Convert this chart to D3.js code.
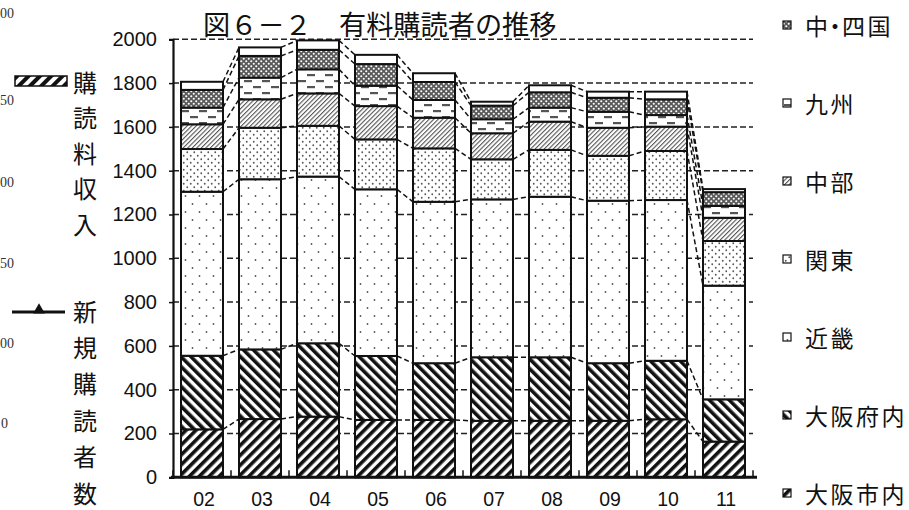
<!DOCTYPE html>
<html><head><meta charset="utf-8">
<script src="https://cdn.jsdelivr.net/npm/d3@7"></script>
<style>body{margin:0;background:#fff;}svg{display:block;}</style>
</head><body>
<svg id="c" width="909" height="510"></svg>
<script>
// ---- data ----
const categories = ["02","03","04","05","06","07","08","09","10","11"];
const osakaCity  = [219,266,277,262,262,258,258,258,265,163];
const osakaPref  = [336,318,335,292,259,290,290,263,267,193];
const kinki      = [749,777,761,761,737,721,733,742,734,519];
const kanto      = [195,235,232,228,244,183,214,205,224,204];
const chubu      = [113,130,148,152,140,119,129,128,111,106];
const kyushu     = [76,99,110,93,81,64,64,73,53,54];
const chushikoku = [81,99,89,99,82,62,70,64,72,63];
const other      = [37,39,43,42,40,18,32,28,35,14];
const seriesKeys   = ["osakaCity","osakaPref","kinki","kanto","chubu","kyushu","chushikoku","other"];
const seriesNames  = ["大阪市内","大阪府内","近畿","関東","中部","九州","中・四国","その他"];
const legendKeys   = ["chushikoku","kyushu","chubu","kanto","kinki","osakaPref","osakaCity"];
const yTicks = [0,200,400,600,800,1000,1200,1400,1600,1800,2000];
const sideFragments = ["00","50","00","50","00","0"];
const title = "図６－２　有料購読者の推移";
const leftLegend1 = "購読料収入";
const leftLegend2 = "新規購読者数";

const seriesData = {osakaCity, osakaPref, kinki, kanto, chubu, kyushu, chushikoku, other};
const table = categories.map((c,i)=>{const o={cat:c}; seriesKeys.forEach(k=>o[k]=seriesData[k][i]); return o;});

const svg = d3.select("#c");
const defs = svg.append("defs");
const JP = "Noto Sans CJK JP, sans-serif";

function stripes(id, angle, w, sw, color){
  const p = defs.append("pattern").attr("id",id).attr("patternUnits","userSpaceOnUse")
    .attr("width",w).attr("height",w).attr("patternTransform",`rotate(${angle})`);
  p.append("rect").attr("width",w).attr("height",w).attr("fill","#fff");
  p.append("rect").attr("x",0).attr("y",0).attr("width",sw).attr("height",w).attr("fill",color);
}
stripes("p-osakaCity", 45, 7, 3.6, "#111");
stripes("p-osakaPref", -45, 7, 3.6, "#111");
stripes("p-chubu", 45, 3.2, 1.1, "#555");
stripes("p-leg", 45, 8, 4, "#111");
(function(){
  const p = defs.append("pattern").attr("id","p-kinki").attr("patternUnits","userSpaceOnUse").attr("width",14).attr("height",16);
  p.append("rect").attr("width",14).attr("height",16).attr("fill","#fff");
  p.append("circle").attr("cx",3.5).attr("cy",4).attr("r",0.9).attr("fill","#555");
  p.append("circle").attr("cx",10.5).attr("cy",12).attr("r",0.9).attr("fill","#555");
})();
(function(){
  const p = defs.append("pattern").attr("id","p-kanto").attr("patternUnits","userSpaceOnUse").attr("width",7).attr("height",7);
  p.append("rect").attr("width",7).attr("height",7).attr("fill","#fff");
  p.append("circle").attr("cx",1.75).attr("cy",1.75).attr("r",0.9).attr("fill","#555");
  p.append("circle").attr("cx",5.25).attr("cy",5.25).attr("r",0.9).attr("fill","#555");
})();
(function(){
  const p = defs.append("pattern").attr("id","p-kyushu").attr("patternUnits","userSpaceOnUse").attr("width",18).attr("height",12);
  p.append("rect").attr("width",18).attr("height",12).attr("fill","#fff");
  p.append("rect").attr("x",1).attr("y",2).attr("width",8).attr("height",2.2).attr("fill","#555");
  p.append("rect").attr("x",10).attr("y",8).attr("width",8).attr("height",2.2).attr("fill","#555");
})();
(function(){
  const p = defs.append("pattern").attr("id","p-chushikoku").attr("patternUnits","userSpaceOnUse").attr("width",5).attr("height",5);
  p.append("rect").attr("width",5).attr("height",5).attr("fill","#5a5a5a");
  p.append("circle").attr("cx",1.25).attr("cy",1.25).attr("r",1.05).attr("fill","#fff");
  p.append("circle").attr("cx",3.75).attr("cy",3.75).attr("r",1.05).attr("fill","#fff");
})();
const fillOf = k => k==="other" ? "#fff" : `url(#p-${k})`;

const x = d3.scaleBand().domain(categories).range([173,753]).paddingInner(0.276).paddingOuter(0.138);
const y = d3.scaleLinear().domain([0,2000]).range([477.3,39.3]);

// gridlines
svg.append("g").selectAll("line").data(yTicks.filter(v=>v>0)).join("line")
  .attr("x1",173).attr("x2",753).attr("y1",d=>y(d)).attr("y2",d=>y(d))
  .attr("stroke","#222").attr("stroke-width",1.5).attr("stroke-dasharray","6,3");

// title
svg.append("text").attr("x",203).attr("y",34.5).attr("font-family",JP)
  .attr("font-size",27.2).attr("fill","#111").text(title);

const stack = d3.stack().keys(seriesKeys)(table);

// connectors
const conn = svg.append("g");
stack.forEach(layer=>{
  for(let i=0;i<layer.length-1;i++){
    conn.append("line")
      .attr("x1",x(categories[i])+x.bandwidth()).attr("y1",y(layer[i][1]))
      .attr("x2",x(categories[i+1])).attr("y2",y(layer[i+1][1]))
      .attr("stroke","#111").attr("stroke-width",1.5).attr("stroke-dasharray","5,3");
  }
});

// bars
svg.append("g").selectAll("g").data(stack).join("g")
  .attr("fill",d=>fillOf(d.key))
  .selectAll("rect").data(d=>d).join("rect")
  .attr("x",d=>x(d.data.cat)).attr("width",x.bandwidth())
  .attr("y",d=>y(d[1])).attr("height",d=>y(d[0])-y(d[1]))
  .attr("stroke","#111").attr("stroke-width",2);

// left axis
const yAxis = d3.axisLeft(y).tickValues(yTicks).tickSize(4).tickFormat(d3.format("d"));
const ya = svg.append("g").attr("transform","translate(173,0)").call(yAxis);
ya.select(".domain").attr("stroke","#111").attr("stroke-width",2.2);
ya.selectAll(".tick line").attr("stroke","#111").attr("stroke-width",1.5);
ya.selectAll(".tick text").attr("x",-16).attr("font-family","Liberation Sans, Arial, sans-serif").attr("font-size",20).attr("fill","#111");

// bottom axis
const xa = svg.append("g").attr("transform","translate(0,477.3)");
xa.append("line").attr("x1",171).attr("x2",757).attr("stroke","#111").attr("stroke-width",3);
const bounds = categories.map(c=>x(c)-x.step()*x.paddingOuter()).concat([753]);
xa.selectAll("line.t").data(bounds).join("line").attr("class","t")
  .attr("x1",d=>d).attr("x2",d=>d).attr("y1",0).attr("y2",-7).attr("stroke","#111").attr("stroke-width",1.5);
xa.selectAll("text").data(categories).join("text")
  .attr("x",d=>x(d)+x.bandwidth()/2+2).attr("y",29)
  .attr("text-anchor","middle").attr("font-family","Liberation Sans, Arial, sans-serif").attr("font-size",19.5).attr("fill","#111")
  .text(d=>d);

// right legend
const lg = svg.append("g");
legendKeys.forEach((k,i)=>{
  const cy = 25 + i*78;
  lg.append("rect").attr("x",783).attr("y",cy-4).attr("width",8).attr("height",8)
    .attr("fill",fillOf(k)).attr("stroke","#111").attr("stroke-width",1.2);
  const name = seriesNames[seriesKeys.indexOf(k)];
  const t = lg.append("text").attr("x",805).attr("y",cy).attr("dominant-baseline","central")
    .attr("font-family",JP).attr("font-size",23).attr("letter-spacing",2.5).attr("fill","#111").text(name);
  if (name.includes("・")) t.attr("dx", Array.from(name).map(ch=>ch==="・"?-7:0).map((v,j,a)=> j>0 && a[j-1]!==0 ? -7 : v).join(" "));
});

// left legend
const ll = svg.append("g");
ll.append("rect").attr("x",15).attr("y",76).attr("width",52).attr("height",10)
  .attr("fill","url(#p-leg)").attr("stroke","#111").attr("stroke-width",1.5);
Array.from(leftLegend1).forEach((ch,i)=>{
  ll.append("text").attr("x",85).attr("y",81+i*35.5).attr("text-anchor","middle").attr("dominant-baseline","central")
    .attr("font-family",JP).attr("font-size",24).attr("fill","#111").text(ch);
});
ll.append("line").attr("x1",12).attr("x2",65).attr("y1",312).attr("y2",312).attr("stroke","#111").attr("stroke-width",3);
ll.append("path").attr("d",d3.symbol().type(d3.symbolTriangle).size(60)()).attr("transform","translate(39,310)").attr("fill","#111");
Array.from(leftLegend2).forEach((ch,i)=>{
  ll.append("text").attr("x",85).attr("y",310+i*36.4).attr("text-anchor","middle").attr("dominant-baseline","central")
    .attr("font-family",JP).attr("font-size",24).attr("fill","#111").text(ch);
});
// fragments of a cropped secondary axis at the far left edge
const fy = [13,100,182,263,343,423];
svg.append("g").selectAll("text").data(sideFragments).join("text")
  .attr("x",(d,i)=> i===5 ? 8 : 14).attr("y",(d,i)=>fy[i]).attr("text-anchor","end").attr("dominant-baseline","central")
  .attr("font-family","Liberation Serif, serif").attr("font-size",14).attr("fill","#333").text(d=>d);
</script>
</body></html>
